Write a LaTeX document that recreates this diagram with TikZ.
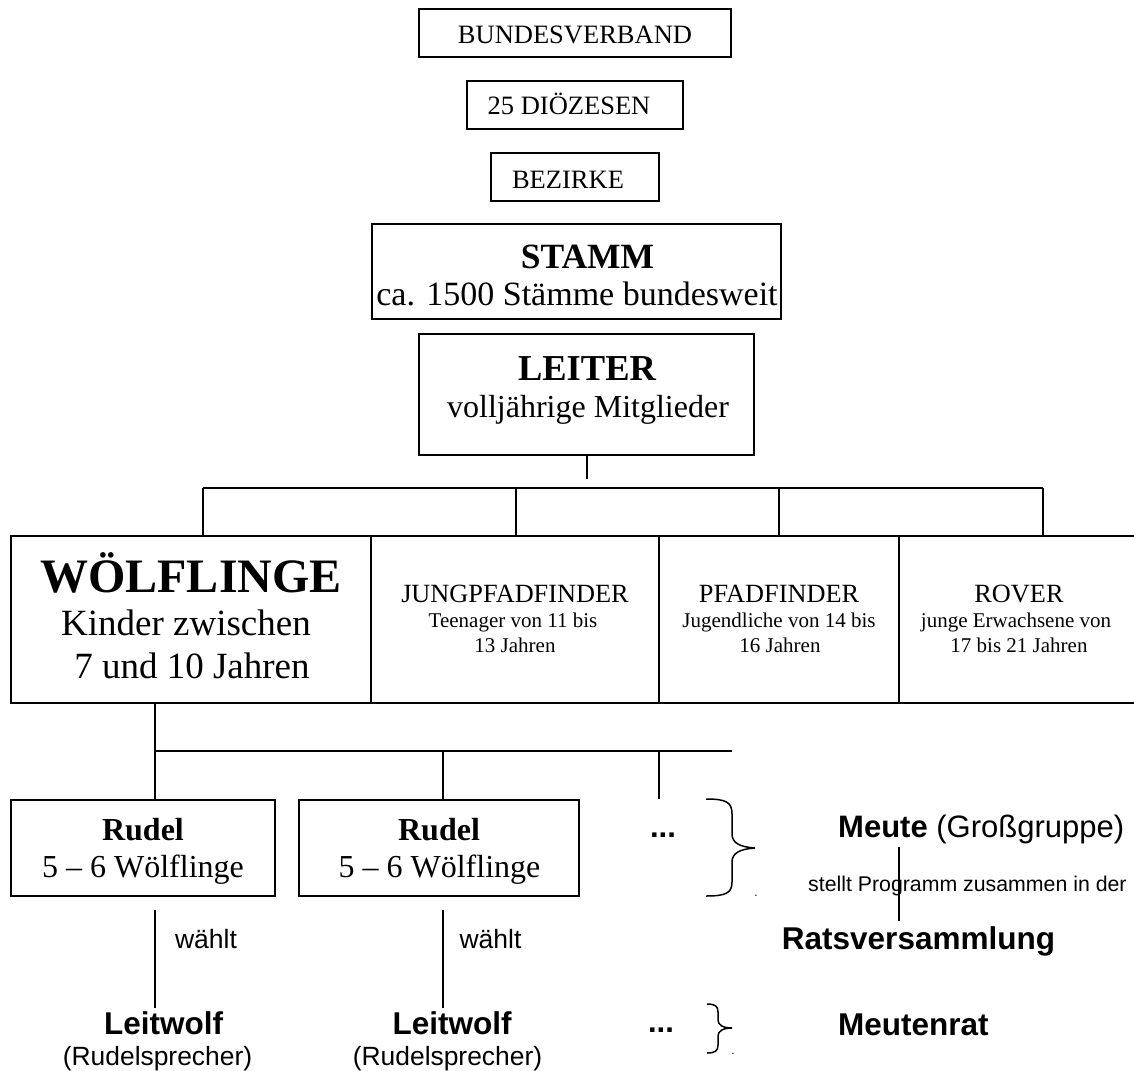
\documentclass[tikz,border=0pt]{standalone}
\usepackage{fontspec}
\setmainfont{Liberation Serif}
\setsansfont{Liberation Sans}
\newcommand{\fsz}[1]{\fontsize{#1}{#1}\selectfont}

\tikzset{
  orgbox/.style={draw, line width=1.7pt, inner sep=0pt},
  txt/.style={anchor=base, inner sep=0pt},
  link/.style={line width=1.7pt},
  curly/.style={line width=1.5pt},
}

\begin{document}
\begin{tikzpicture}[x=1pt,y=-1pt]
\useasboundingbox (0,0) rectangle (1134,1070);

% upper levels
\node[orgbox, minimum width=312, minimum height=48] (bund) at (575,33) {};
\node[orgbox, minimum width=216, minimum height=48] (dioz) at (575,105) {};
\node[orgbox, minimum width=168, minimum height=48] (bez) at (575,177) {};
\node[orgbox, minimum width=409, minimum height=95] (stamm) at (576.5,271.5) {};
\node[orgbox, minimum width=335, minimum height=121] (leiter) at (586.5,394.5) {};

\node[txt, font=\fsz{26.5}] (bundT) at (575,44) {BUNDESVERBAND};
\node[txt, font=\fsz{26.5}] (diozT) at (569,115) {25 DIÖZESEN};
\node[txt, font=\fsz{26.5}] (bezT) at (568,188) {BEZIRKE};
\node[txt, font=\bfseries\fsz{35.5}] (stammT) at (587.5,268) {STAMM};
\node[txt, font=\fsz{34}] (stammS) at (577,305) {ca. 1500 Stämme bundesweit};
\node[txt, font=\bfseries\fsz{36.5}] (leiterT) at (587,380) {LEITER};
\node[txt, font=\fsz{32}] (leiterS) at (588,417) {volljährige Mitglieder};

% stufen
\foreach \n/\cx/\w in {woelf/191/360, jung/515/288, pfad/779/240, rover/1019/240}
  \node[orgbox, minimum width=\w, minimum height=167] (\n) at (\cx,619.5) {};

\node[txt, font=\bfseries\fsz{48}] (woelfT) at (191,592) {WÖLFLINGE};
\node[txt, font=\fsz{37}] (woelfS) at (186,635) {Kinder zwischen};
\node[txt, font=\fsz{37}] (woelfU) at (192,678) {7 und 10 Jahren};

\node[txt, font=\fsz{26.3}] (jungT) at (515,602) {JUNGPFADFINDER};
\node[txt, font=\fsz{21}] (jungS) at (513,627) {Teenager von 11 bis};
\node[txt, font=\fsz{21}] (jungU) at (515,652) {13 Jahren};

\node[txt, font=\fsz{26.3}] (pfadT) at (779,602) {PFADFINDER};
\node[txt, font=\fsz{21}] (pfadS) at (779,627) {Jugendliche von 14 bis};
\node[txt, font=\fsz{21}] (pfadU) at (780,652) {16 Jahren};

\node[txt, font=\fsz{26.3}] (roverT) at (1019,602) {ROVER};
\node[txt, font=\fsz{21}] (roverS) at (1016,627) {junge Erwachsene von};
\node[txt, font=\fsz{21}] (roverU) at (1019,652) {17 bis 21 Jahren};

% leiter -> stufen
\coordinate (lstub) at (587,479);
\draw[link] (leiter.south -| lstub) -- (lstub);
\coordinate (barW) at (203,488);
\coordinate (barE) at (1043,488);
\draw[link] (barW) -- (barE);
\foreach \x/\n in {203/woelf, 516/jung, 779/pfad, 1043/rover}
  \draw[link] (\x,488) -- (\n.north -| \x,0);

% rudel
\node[orgbox, minimum width=264, minimum height=96] (rudelA) at (143,848) {};
\node[orgbox, minimum width=280, minimum height=96] (rudelB) at (439,848) {};

\node[txt, font=\bfseries\fsz{32}] (rudelAT) at (143,840) {Rudel};
\node[txt, font=\fsz{32}] (rudelAS) at (143,877) {5 – 6 Wölflinge};
\node[txt, font=\bfseries\fsz{32}] (rudelBT) at (439,840) {Rudel};
\node[txt, font=\fsz{32}] (rudelBS) at (439.5,877) {5 – 6 Wölflinge};
\node[txt, font=\sffamily\bfseries\fsz{31}] (dotsA) at (663,837) {...};

\coordinate (mA) at (155,751);
\coordinate (mB) at (443,751);
\coordinate (mC) at (659,751);
\coordinate (mE) at (732,751);
\draw[link] (woelf.south -| mA) -- (mA) -- (mE);
\draw[link] (mA) -- (mA |- rudelA.north);
\draw[link] (mB) -- (mB |- rudelB.north);
\draw[link] (mC) -- (mC |- rudelB.north);

% leitwoelfe
\coordinate (wA1) at (155,910);
\coordinate (wA2) at (155,1008);
\coordinate (wB1) at (443,910);
\coordinate (wB2) at (443,1008);
\draw[link, line width=1.5pt] (wA1) -- (wA2);
\draw[link, line width=1.5pt] (wB1) -- (wB2);
\node[txt, font=\sffamily\fsz{26.5}] (waehltA) at (206,948) {wählt};
\node[txt, font=\sffamily\fsz{26.5}] (waehltB) at (490.5,948) {wählt};

\node[txt, font=\sffamily\bfseries\fsz{31.5}] (leitA) at (163.5,1034) {Leitwolf};
\node[txt, font=\sffamily\fsz{26.4}] (sprA) at (157.5,1065) {(Rudelsprecher)};
\node[txt, font=\sffamily\bfseries\fsz{31.5}] (leitB) at (452,1034) {Leitwolf};
\node[txt, font=\sffamily\fsz{26.4}] (sprB) at (447.5,1065) {(Rudelsprecher)};
\node[txt, font=\sffamily\bfseries\fsz{31}] (dotsB) at (661,1032) {...};

% klammern
\draw[curly] (706,799) .. controls (726,799) and (732,802) .. (732,814) -- (732,834)
  .. controls (732,843) and (740,847) .. (755,848)
  .. controls (740,849) and (732,853) .. (732,862) -- (732,882)
  .. controls (732,893) and (726,896) .. (706,896);
\draw[curly] (707,1004) .. controls (715,1004) and (718,1006) .. (718,1012) -- (718,1020)
  .. controls (718,1025) and (723,1028) .. (732,1028)
  .. controls (723,1028) and (718,1031) .. (718,1036) -- (718,1045)
  .. controls (718,1051) and (715,1053) .. (707,1053);
\node[txt, font=\sffamily\fsz{12}] (dotC) at (756,896) {.};
\node[txt, font=\sffamily\fsz{12}] (dotD) at (733,1054) {.};

% meute
\node[txt, anchor=base west, font=\sffamily\fsz{31}] (meute) at (838,837) {\textbf{Meute} (Großgruppe)};
\node[txt, anchor=base west, font=\sffamily\fsz{21.3}] (prog) at (808,891) {stellt Programm zusammen in der};
\coordinate (rvTop) at (899,847);
\coordinate (rvBot) at (899,921);
\draw[link, line width=1.5pt] (rvTop) -- (rvBot);
\node[txt, font=\sffamily\bfseries\fsz{31.5}] (rat) at (918.5,949) {Ratsversammlung};
\node[txt, anchor=base west, font=\sffamily\bfseries\fsz{31.5}] (meutenrat) at (838,1035) {Meutenrat};

\end{tikzpicture}
\end{document}
